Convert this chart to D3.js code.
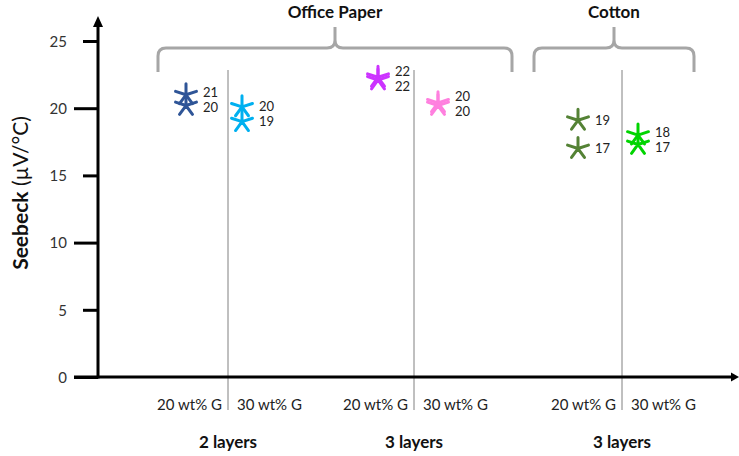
<!DOCTYPE html>
<html>
<head>
<meta charset="utf-8">
<script src="https://cdn.jsdelivr.net/npm/d3@7"></script>
<style>
  html, body { margin: 0; padding: 0; background: #fff; }
  svg { display: block; font-family: Lato, "Open Sans", sans-serif; }
</style>
</head>
<body>
<svg id="chart" width="739" height="456"></svg>
<script>
// Seebeck coefficient of graphite-loaded paper and cotton samples
const setLabels = ["2 layers", "3 layers", "3 layers"];
const setCenters = [3.25, 7.9, 13.1];            // x position of each set (divider)
const loadingLabels = ["20 wt% G", "30 wt% G"];

const substrateNames = ["Office Paper", "Cotton"];
const substrateSpans = [[1.5, 10.35], [10.9, 14.9]];

const seriesX = [2.2, 3.6, 7.0, 8.5, 12.0, 13.5];
const seriesColors = ["#2F5597", "#00B0F0", "#CC33FF", "#FF80DF", "#548235", "#00D400"];
const seriesValues = [
  [21.0, 20.2],
  [20.1, 19.0],
  [22.3, 22.1],
  [20.4, 20.2],
  [19.1, 17.0],
  [18.0, 17.3]
];

const yTicks = [0, 5, 10, 15, 20, 25];

const svg = d3.select("#chart");

const x = d3.scaleLinear().domain([0, 16]).range([98, 738]);
const y = d3.scaleLinear().domain([0, 25]).range([377, 41]);

// vertical dividers between loadings
svg.append("g").selectAll("line").data(setCenters).join("line")
  .attr("x1", d => x(d)).attr("x2", d => x(d))
  .attr("y1", 70).attr("y2", 410)
  .attr("stroke", "#808080").attr("stroke-width", 1);

// loading labels on each side of the divider
const catG = svg.append("g").attr("font-size", 15).attr("fill", "#222");
setCenters.forEach(c => {
  catG.append("text").attr("x", x(c) - 6).attr("y", 410)
    .attr("text-anchor", "end").text(loadingLabels[0]);
  catG.append("text").attr("x", x(c) + 9).attr("y", 410)
    .attr("text-anchor", "start").text(loadingLabels[1]);
});

// layer labels
svg.append("g").selectAll("text").data(setLabels).join("text")
  .attr("x", (d, i) => x(setCenters[i])).attr("y", 448)
  .attr("text-anchor", "middle").attr("font-size", 17).attr("font-weight", "bold")
  .attr("fill", "#111").text(d => d);

// substrate braces
const braceG = svg.append("g");
substrateNames.forEach((name, i) => {
  const x0 = x(substrateSpans[i][0]), x1 = x(substrateSpans[i][1]);
  const xm = (x0 + x1) / 2, yH = 48, yTip = 27, yB = 72, r = 8;
  const p = d3.path();
  p.moveTo(x0, yB); p.lineTo(x0, yH + r);
  p.quadraticCurveTo(x0, yH, x0 + r, yH);
  p.lineTo(xm - r, yH);
  p.quadraticCurveTo(xm, yH, xm, yH - r);
  p.lineTo(xm, yTip);
  p.moveTo(xm, yH - r);
  p.quadraticCurveTo(xm, yH, xm + r, yH);
  p.lineTo(x1 - r, yH);
  p.quadraticCurveTo(x1, yH, x1, yH + r);
  p.lineTo(x1, yB);
  braceG.append("path").attr("d", p.toString())
    .attr("fill", "none").attr("stroke", "#A6A6A6").attr("stroke-width", 3);
  braceG.append("text").attr("x", xm).attr("y", 18)
    .attr("text-anchor", "middle").attr("font-size", 17).attr("font-weight", "bold")
    .attr("fill", "#111").text(name);
});

// axes
const axG = svg.append("g");
axG.append("line").attr("x1", x(0)).attr("x2", x(0)).attr("y1", y(0) + 1.5).attr("y2", 24)
  .attr("stroke", "#000").attr("stroke-width", 3);
axG.append("path").attr("d", `M${x(0)},16 L${x(0) - 5},27 L${x(0) + 5},27 Z`).attr("fill", "#000");
axG.append("line").attr("x1", 74).attr("x2", 733).attr("y1", y(0)).attr("y2", y(0))
  .attr("stroke", "#000").attr("stroke-width", 3);
axG.append("path").attr("d", `M739,${y(0)} L731,${y(0) - 4.5} L731,${y(0) + 4.5} Z`).attr("fill", "#000");

const yAxis = d3.axisLeft(y).tickValues(yTicks).tickSize(0).tickPadding(0);
const yAxisG = axG.append("g").attr("transform", `translate(${x(0)},0)`).call(yAxis);
yAxisG.select(".domain").remove();
yAxisG.selectAll(".tick line").remove();
yAxisG.selectAll(".tick").append("line")
  .attr("x1", d => d % 10 === 0 ? -24 : -15).attr("x2", 0)
  .attr("stroke", "#000").attr("stroke-width", 3);
yAxisG.selectAll(".tick text")
  .attr("x", -31).attr("dy", "0.35em")
  .attr("font-size", 15).attr("font-family", "Lato, 'Open Sans', sans-serif").attr("fill", "#333");

// y-axis title
const title = svg.append("text")
  .attr("transform", "translate(28,193) rotate(-90)")
  .attr("text-anchor", "middle").attr("font-size", 21).attr("fill", "#111");
title.append("tspan").attr("font-weight", "bold").text("Seebeck");
title.append("tspan").text(" (\u00B5V/\u00B0C)");

// asterisk marker: five spokes
function starPath(r) {
  const p = d3.path();
  for (let k = 0; k < 5; k++) {
    const a = (k * 72) * Math.PI / 180;
    p.moveTo(0, 0);
    p.lineTo(r * Math.sin(a), -r * Math.cos(a));
  }
  return p.toString();
}

const fmt = d3.format(".0f");
const pointsG = svg.append("g");
const labelsG = svg.append("g").attr("font-size", 13).attr("fill", "#222");

seriesValues.forEach((vals, si) => {
  const cx = x(seriesX[si]);
  vals.forEach(v => {
    pointsG.append("path").attr("d", starPath(11))
      .attr("transform", `translate(${cx},${y(v)})`)
      .attr("fill", "none").attr("stroke", seriesColors[si])
      .attr("stroke-width", 3).attr("stroke-linecap", "round");
  });
  // data labels, pushed apart when they would collide
  const ly = vals.map(v => y(v)).sort((a, b) => a - b);
  const gap = 15;
  if (ly.length === 2 && ly[1] - ly[0] < gap) {
    const m = (ly[0] + ly[1]) / 2;
    ly[0] = m - gap / 2; ly[1] = m + gap / 2;
  }
  const sortedVals = vals.slice().sort((a, b) => b - a);
  sortedVals.forEach((v, k) => {
    labelsG.append("text").attr("x", cx + 17).attr("y", ly[k]).attr("dy", "0.35em")
      .text(fmt(v));
  });
});
</script>
</body>
</html>
